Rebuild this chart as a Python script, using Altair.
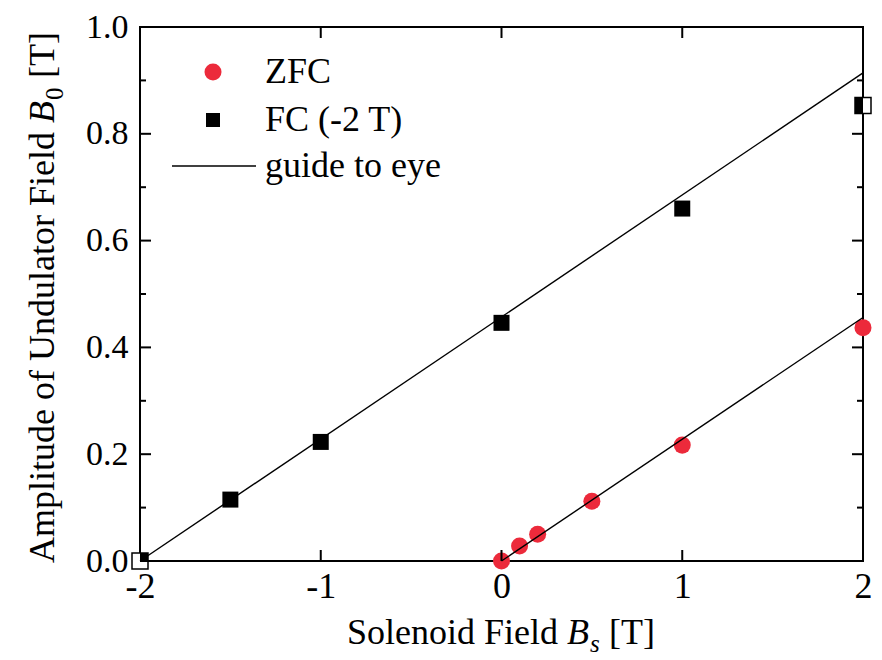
import altair as alt
import pandas as pd

# ---- data ----
zfc_x = [0.0, 0.1, 0.2, 0.5, 1.0, 2.0]
zfc_y = [0.0, 0.028, 0.050, 0.112, 0.217, 0.437]
fc_x = [-2.0, -1.5, -1.0, 0.0, 1.0, 2.0]
fc_y = [0.0, 0.115, 0.223, 0.446, 0.660, 0.853]
guide_fc_x = [-2.0, 2.0]
guide_fc_y = [0.0, 0.914]
guide_zfc_x = [0.0, 2.0]
guide_zfc_y = [0.0, 0.456]

x_tick_labels = [-2, -1, 0, 1, 2]
y_tick_labels = [0.0, 0.2, 0.4, 0.6, 0.8, 1.0]
y_minor = [0.1, 0.3, 0.5, 0.7, 0.9]
x_inner_ticks = [-1, 0, 1]

W, H = 723, 534
TOP = 19
FONT = "Liberation Serif"
RED = "#EC2A3B"

zfc = pd.DataFrame({"x": zfc_x, "y": zfc_y})
fc = pd.DataFrame({"x": fc_x, "y": fc_y})
guides = pd.DataFrame({
    "x": guide_fc_x + guide_zfc_x,
    "y": guide_fc_y + guide_zfc_y,
    "g": ["FC", "FC", "ZFC", "ZFC"],
})
one = pd.DataFrame({"a": [0]})

xscale = alt.Scale(domain=[-2, 2], nice=False, zero=False)
yscale = alt.Scale(domain=[0, 1], nice=False, zero=False)
common_axis = dict(title=None, grid=False, ticks=False, domain=False,
                   labelFont=FONT, labelFontStyle="normal",
                   labelFontWeight="normal", labelColor="black",
                   labelFlush=False, labelOverlap=False)
xaxis = alt.Axis(values=x_tick_labels, labelExpr="'' + datum.value",
                 labelPadding=8, labelFontSize=36, **common_axis)
yaxis = alt.Axis(values=y_tick_labels, format=".1f", labelPadding=12,
                 labelFontSize=34, **common_axis)

def X(field="x"):
    return alt.X(f"{field}:Q", scale=xscale, axis=xaxis)

def Y(field="y"):
    return alt.Y(f"{field}:Q", scale=yscale, axis=yaxis)

# markers
hollow = alt.Chart(fc).transform_filter("abs(datum.x) == 2").mark_point(
    shape="square", size=256, filled=True, fill="white", stroke="black",
    strokeWidth=1.5, opacity=1, clip=False).encode(x=X(), y=Y())
squares = alt.Chart(fc).mark_point(shape="square", size=256, filled=True,
                                   color="black", opacity=1, clip=True).encode(x=X(), y=Y())
circles = alt.Chart(zfc).mark_point(shape="circle", size=290, filled=True,
                                    color=RED, opacity=1, clip=False).encode(x=X(), y=Y())
lines = alt.Chart(guides).mark_line(color="black", strokeWidth=1.4).encode(
    x=X(), y=Y(), detail="g:N")

# inward ticks
def vrule(values, x0, x1):
    return alt.Chart(pd.DataFrame({"y": values})).mark_rule(
        color="black", strokeWidth=2).encode(
        y=Y(), x=alt.value(x0), x2=alt.value(x1))

def hrule(values, y0, y1):
    return alt.Chart(pd.DataFrame({"x": values})).mark_rule(
        color="black", strokeWidth=2).encode(
        x=X(), y=alt.value(y0), y2=alt.value(y1))

ticks = [
    vrule(y_tick_labels, 0, 11), vrule(y_minor, 0, 6),
    vrule(y_tick_labels, W - 11, W), vrule(y_minor, W - 6, W),
    hrule(x_inner_ticks, 0, 11), hrule(x_inner_ticks, H - 11, H),
]

def txt(s, x, y, size=36, align="left", baseline="alphabetic", angle=0, italic=False):
    kw = dict(text=s, font=FONT, fontSize=size, align=align, baseline=baseline,
              color="black", fontStyle="italic" if italic else "normal",
              fontWeight="normal")
    if angle:
        kw["angle"] = angle
    return alt.Chart(one).mark_text(**kw).encode(x=alt.value(x), y=alt.value(y))

# x axis title: Solenoid Field B_s [T]  (page baseline ~644)
xt_base = 644 - 8 - TOP
xtitle = [
    txt("Solenoid Field", 418, xt_base, align="right"),
    txt("B", 427, xt_base, italic=True),
    txt("s", 450, xt_base + 8, size=25, italic=True),
    txt("[T]", 469, xt_base),
]
# y axis title: Amplitude of Undulator Field B_0 [T]
yt_base = -86
dy = 25 - (8 + TOP)
ytitle = [
    txt("Amplitude of Undulator Field", yt_base, 107 + dy, align="right", angle=270),
    txt("B", yt_base, 98 + dy, align="left", angle=270, italic=True),
    txt("0", yt_base + 9, 75 + dy, size=25, align="left", angle=270),
    txt("[T]", yt_base, 53 + dy, align="left", angle=270),
]

# legend
leg = [
    alt.Chart(one).mark_point(shape="circle", size=290, filled=True, color=RED,
                              opacity=1).encode(x=alt.value(73), y=alt.value(47 + dy)),
    alt.Chart(one).mark_point(shape="square", size=196, filled=True, color="black",
                              opacity=1).encode(x=alt.value(73), y=alt.value(95 + dy)),
    alt.Chart(one).mark_rule(color="black", strokeWidth=1.4).encode(
        x=alt.value(32), x2=alt.value(116), y=alt.value(141 + dy)),
    txt("ZFC", 125, 47 + dy, size=36, baseline="middle"),
    txt("FC (-2 T)", 125, 95 + dy, size=36, baseline="middle"),
    txt("guide to eye", 125, 141 + dy, size=36, baseline="middle"),
]

chart = alt.layer(hollow, squares, circles, lines, *ticks, *xtitle, *ytitle, *leg).properties(
    width=W, height=H,
    padding={"left": 132, "top": TOP, "right": 10, "bottom": 99},
    autosize=alt.AutoSizeParams(type="none"),
).configure(
    background="white", font=FONT,
    view=alt.ViewConfig(stroke="black", strokeWidth=2),
)

chart.save("out.html", embed_options={"renderer": "svg", "actions": False})
